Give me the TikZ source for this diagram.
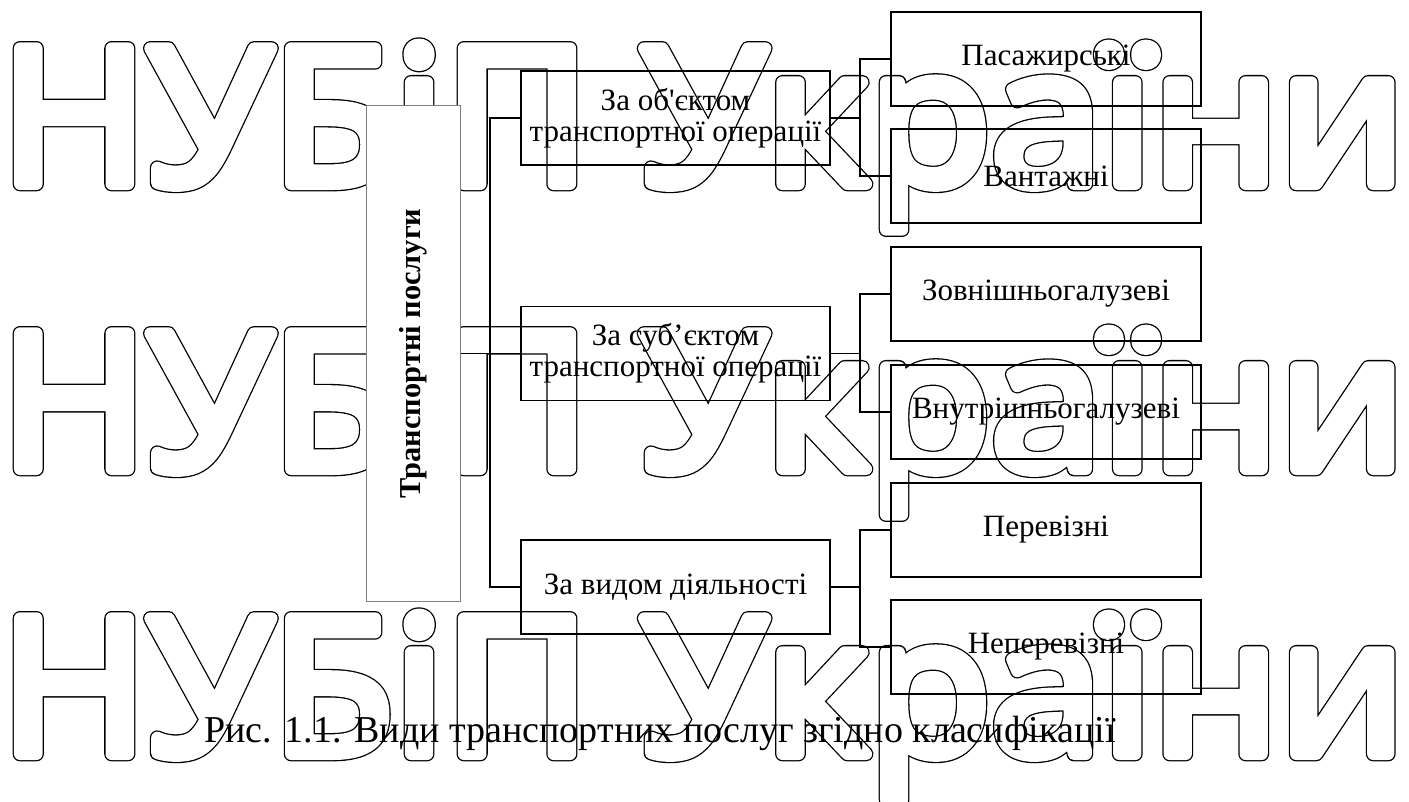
\documentclass[tikz,border=0pt]{standalone}
\usepackage{fontspec}
\setmainfont{Liberation Serif}
\newfontfamily\wmfont[FakeStretch=1.05]{Open Sans}
\usepackage{tikz}
\usetikzlibrary{positioning,calc}
\newcommand{\wmrim}[1]{%
    % outer outline of the watermark glyphs
    \special{pdf:literal direct 1 Tr 1 j 7.3 w}#1\special{pdf:literal direct 0 Tr 0 j}%
}
\newcommand{\wmbody}[1]{%
    % white inner body, leaves only the rim
    \textcolor{white}{\special{pdf:literal direct 2 Tr 1 j 6 w}#1\special{pdf:literal direct 0 Tr 0 j}}%
}

\begin{document}
\begin{tikzpicture}[x=0.5pt, y=-0.5pt,
    catbox/.style={rectangle, draw, line width=0.9pt, minimum width=154.5pt, minimum height=47pt, align=center, font=\fontsize{15.5}{15.5}\selectfont, inner sep=0pt},
    kindbox/.style={catbox, minimum width=155pt},
    rootbox/.style={rectangle, draw=gray, fill=white, line width=0.5pt, rotate=90, minimum width=247.5pt, minimum height=47pt, inner sep=0pt, font=\fontsize{15.2}{16}\selectfont\bfseries},
    link/.style={line width=0.9pt},
    wmark/.style={anchor=base west, inner sep=0pt, font=\wmfont\fontsize{95}{95}\selectfont}
]
    \useasboundingbox (0,0) rectangle (1409,802);

    % Watermark
    \node[wmark] (wm1) at (0,184) {\wmrim{НУБіП України}};
    \node[wmark] (wm1b) at (0,184) {\wmbody{НУБіП України}};
    \node[wmark] (wm2) at (0,469) {\wmrim{НУБіП України}};
    \node[wmark] (wm2b) at (0,469) {\wmbody{НУБіП України}};
    \node[wmark] (wm3) at (0,754) {\wmrim{НУБіП України}};
    \node[wmark] (wm3b) at (0,754) {\wmbody{НУБіП України}};

    % Root
    \node[rootbox] (root) at (413,353.5) {Транспортні послуги};

    % Criteria
    \node[catbox] (sub1) at (675.5,118) {За об\textquotesingle єктом\\транспортної операції};
    \node[catbox] (sub2) at (675.5,353.5) {За суб’єктом\\транспортної операції};
    \node[catbox] (sub3) at (675.5,587) {За видом діяльності};

    % Kinds
    \node[kindbox] (pass) at (1046,59) {Пасажирські};
    \node[kindbox] (cargo) at (1046,176) {Вантажні};
    \node[kindbox] (ext) at (1046,294) {Зовнішньогалузеві};
    \node[kindbox] (int) at (1046,412) {Внутрішньогалузеві};
    \node[kindbox] (carr) at (1046,530) {Перевізні};
    \node[kindbox] (noncarr) at (1046,647) {Неперевізні};

    % Caption
    \node[anchor=base, inner sep=0pt, font=\fontsize{19}{22}\selectfont] (caption) at (660,742) {Рис. 1.1. Види транспортних послуг згідно класифікації};

    % Connections — root
    \coordinate (busL) at (490,0);
    \coordinate (busR) at (860,0);
    \draw[link] (root) -- (sub2);
    \draw[link] (sub1.west) -- (sub1.west -| busL) -- (sub3.west -| busL) -- (sub3.west);

    % Connections — criteria
    \draw[link] (sub1.east) -- (sub1.east -| busR);
    \draw[link] (pass.west) -- (pass.west -| busR) -- (cargo.west -| busR) -- (cargo.west);
    \draw[link] (sub2.east) -- (sub2.east -| busR);
    \draw[link] (ext.west) -- (ext.west -| busR) -- (int.west -| busR) -- (int.west);
    \draw[link] (sub3.east) -- (sub3.east -| busR);
    \draw[link] (carr.west) -- (carr.west -| busR) -- (noncarr.west -| busR) -- (noncarr.west);
\end{tikzpicture}
\end{document}
